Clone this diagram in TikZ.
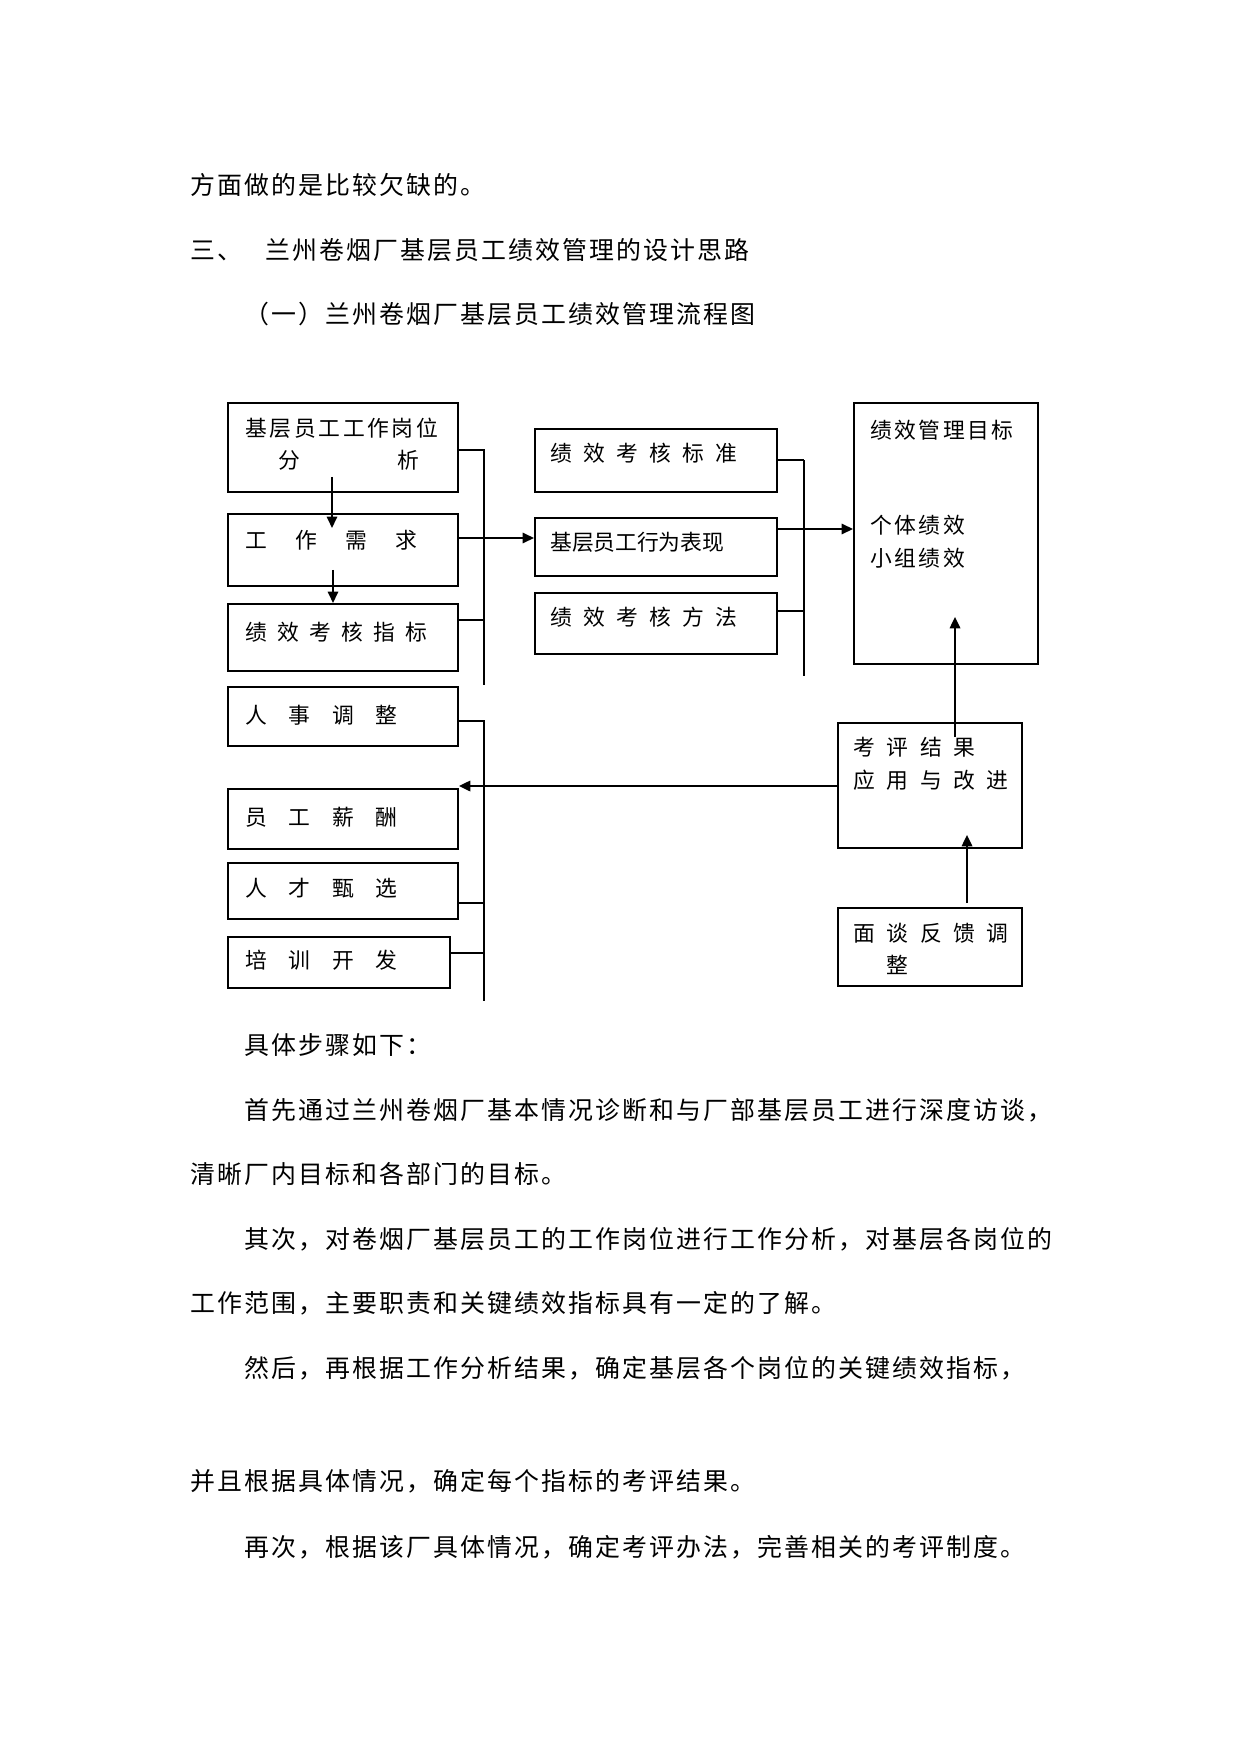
\documentclass[tikz,border=0pt]{standalone}
\usepackage{fontspec}
\setmainfont{Noto Sans CJK SC}
\usetikzlibrary{arrows.meta}
\newlength\pxu
\setlength\pxu{0.4818pt}
\makeatletter
\newcommand\cjkspread[2]{\@tfor\spch:=#2\do{\makebox[#1\pxu][l]{\spch}}}
\makeatother
\newcommand\bodyfont{\fontsize{12pt}{14pt}\selectfont}
\newcommand\diafont{\fontsize{10.5pt}{12pt}\selectfont}
\newcommand\boxnode[5]{\node[box, minimum width={(#4-#2)*\pxu}, minimum height={(#5-#3)*\pxu}] (#1) at (#2,#3) {};}
\begin{document}
\begin{tikzpicture}[x=0.4818pt, y=-0.4818pt,
  body/.style={anchor=base west, inner sep=0pt, font=\bodyfont},
  lbl/.style={anchor=base west, inner sep=0pt, font=\diafont},
  box/.style={draw, line width=0.9pt, anchor=north west, inner sep=0pt},
  thinl/.style={line width=0.5pt},
  thickl/.style={line width=1pt},
  arr/.style={-{Triangle[length=5.5pt,width=5pt]}}]
\fill[white] (0,0) rectangle (1241,1754);
\useasboundingbox (0,0) rectangle (1241,1754);

% body text above
\node[body] (t1) at (190,194.5) {\cjkspread{27}{方面做的是比较欠缺的。}};
\node[body] (t2a) at (190,259.5) {\cjkspread{27}{三、}};
\node[body] (t2b) at (265,259.5) {\cjkspread{27}{兰州卷烟厂基层员工绩效管理的设计思路}};
\node[body] (t3) at (244,323.5) {\cjkspread{27}{（一）兰州卷烟厂基层员工绩效管理流程图}};

% boxes
\boxnode{b1}{227}{402}{457}{491}
\boxnode{b2}{227}{513}{457}{585}
\boxnode{b3}{227}{603}{457}{670}
\boxnode{b4}{227}{686}{457}{745}
\boxnode{b5}{227}{788}{457}{848}
\boxnode{b6}{227}{862}{457}{918}
\boxnode{b7}{227}{936}{449}{987}
\boxnode{m1}{534}{428}{776}{491}
\boxnode{m2}{534}{517}{776}{575}
\boxnode{m3}{534}{592}{776}{653}
\boxnode{tg}{853}{402}{1037}{663}
\boxnode{kp}{837}{722}{1021}{847}
\boxnode{ft}{837}{907}{1021}{985}

% labels
\node[lbl] (lb1a) at (245,436.3) {\cjkspread{24.4}{基层员工工作岗位}};
\node[lbl] (lb1b) at (278,468.3) {\cjkspread{119}{分析}};
\node[lbl] (lb2) at (245,548.3) {\cjkspread{50}{工作需求}};
\node[lbl] (lb3) at (245,640) {\cjkspread{32}{绩效考核指标}};
\node[lbl] (lb4) at (245,723.3) {\cjkspread{43.3}{人事调整}};
\node[lbl] (lb5) at (245,825) {\cjkspread{43.3}{员工薪酬}};
\node[lbl] (lb6) at (245,896.6) {\cjkspread{43.3}{人才甄选}};
\node[lbl] (lb7) at (245,968.3) {\cjkspread{43.3}{培训开发}};
\node[lbl] (lm1) at (550,461.6) {\cjkspread{33}{绩效考核标准}};
\node[lbl] (lm2) at (550,550) {\cjkspread{21.7}{基层员工行为表现}};
\node[lbl] (lm3) at (550,625) {\cjkspread{33}{绩效考核方法}};
\node[lbl] (lt1) at (870,438.3) {\cjkspread{24.2}{绩效管理目标}};
\node[lbl] (lt2) at (870,533.3) {\cjkspread{24.2}{个体绩效}};
\node[lbl] (lt3) at (870,566.3) {\cjkspread{24.2}{小组绩效}};
\node[lbl] (lk1) at (853,755) {\cjkspread{33.3}{考评结果}};
\node[lbl] (lk2) at (853,788.3) {\cjkspread{33.3}{应用与改进}};
\node[lbl] (lf1) at (853,941.3) {\cjkspread{33.3}{面谈反馈调}};
\node[lbl] (lf2) at (886,973.3) {\cjkspread{33.3}{整}};

% spine coordinates
\coordinate (sp1a) at (484,450);
\coordinate (sp1b) at (484,685);
\coordinate (sp2a) at (484,721);
\coordinate (sp2b) at (484,1001);
\coordinate (sp3a) at (804,460);
\coordinate (sp3b) at (804,676);

% left upper group
\draw[thinl] (b1.east |- sp1a) -- (sp1a) -- (sp1b);
\draw[thickl] (b3.east |- 0,620) -- (sp1a |- 0,620);
\draw[thickl,arr] (b2.east |- 0,538) -- (m2.west |- 0,538);
\draw[thickl,arr] ([shift={(105,-16)}]b1.south west) -- ([shift={(105,15)}]b2.north west);
\draw[thickl,arr] ([shift={(106,-17)}]b2.south west) -- ([shift={(106,0)}]b3.north west);

% left lower group
\draw[thinl] (b4.east |- sp2a) -- (sp2a) -- (sp2b);
\draw[thickl] (b6.east |- 0,903) -- (sp2a |- 0,903);
\draw[thinl] (b7.east |- 0,953) -- (sp2a |- 0,953);
\draw[thickl,arr] (kp.west |- 0,786) -- (b5.east |- 0,786);

% middle group
\draw[thickl] (m1.east |- sp3a) -- (sp3a);
\draw[thinl] (sp3a) -- (sp3b);
\draw[thinl] (m3.east |- 0,611) -- (sp3a |- 0,611);
\draw[thickl,arr] (m2.east |- 0,529) -- (tg.west |- 0,529);

% right group
\draw[thickl,arr] ([shift={(118,15)}]kp.north west) -- ([shift={(102,-48)}]tg.south west);
\draw[thickl,arr] ([shift={(130,-4)}]ft.north west) -- ([shift={(130,-14)}]kp.south west);

% body text below
\node[body] (p1) at (244,1054.5) {\cjkspread{27}{具体步骤如下：}};
\node[body] (p2) at (244,1119) {\cjkspread{27}{首先通过兰州卷烟厂基本情况诊断和与厂部基层员工进行深度访谈，}};
\node[body] (p3) at (190,1183.5) {\cjkspread{27}{清晰厂内目标和各部门的目标。}};
\node[body] (p4) at (244,1248.5) {\cjkspread{27}{其次，对卷烟厂基层员工的工作岗位进行工作分析，对基层各岗位的}};
\node[body] (p5) at (190,1312.5) {\cjkspread{27}{工作范围，主要职责和关键绩效指标具有一定的了解。}};
\node[body] (p6) at (244,1377.5) {\cjkspread{27}{然后，再根据工作分析结果，确定基层各个岗位的关键绩效指标，}};
\node[body] (p7) at (190,1490.5) {\cjkspread{27}{并且根据具体情况，确定每个指标的考评结果。}};
\node[body] (p8) at (244,1556.5) {\cjkspread{27}{再次，根据该厂具体情况，确定考评办法，完善相关的考评制度。}};
\end{tikzpicture}
\end{document}
